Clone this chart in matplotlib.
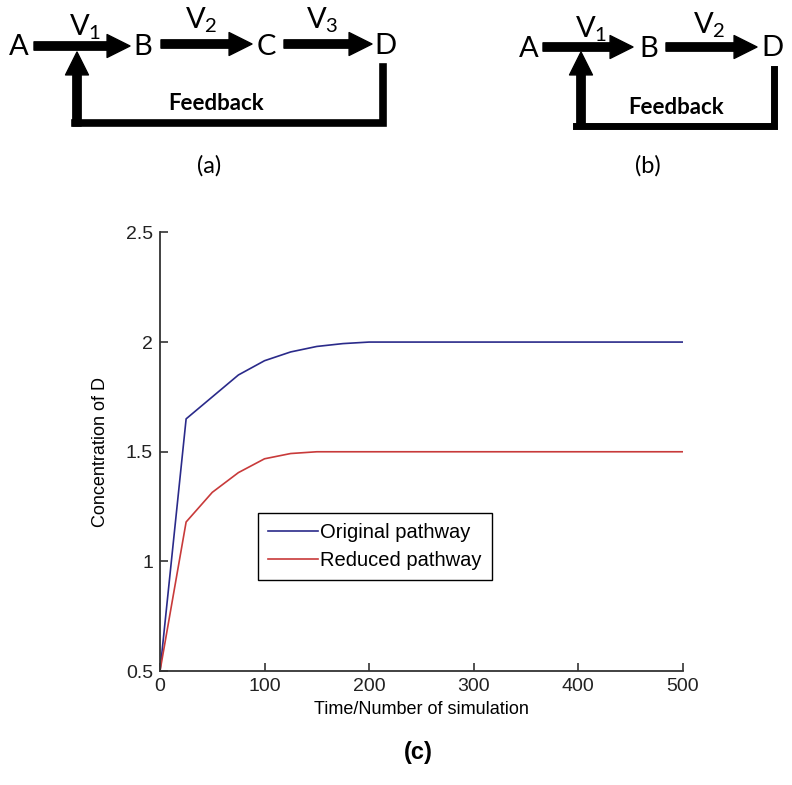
import numpy as np
import matplotlib
matplotlib.use('Agg')
import matplotlib.pyplot as plt

# simulation output
time = [0, 25, 50, 75, 100, 125, 150, 175, 200, 250, 300, 350, 400, 450, 500]
original = [0.5, 1.65, 1.75, 1.85, 1.915, 1.955, 1.98, 1.993, 2.0, 2.0, 2.0, 2.0, 2.0, 2.0, 2.0]
reduced = [0.5, 1.18, 1.315, 1.405, 1.468, 1.492, 1.5, 1.5, 1.5, 1.5, 1.5, 1.5, 1.5, 1.5, 1.5]
labels = ['Original pathway', 'Reduced pathway']
xticks = [0, 100, 200, 300, 400, 500]
yticks = [0.5, 1, 1.5, 2, 2.5]

plt.rcParams['mathtext.fontset'] = 'custom'
plt.rcParams['mathtext.rm'] = 'Lato'
plt.rcParams['mathtext.it'] = 'Lato'

fig = plt.figure(figsize=(7.92, 7.85), dpi=100)

# pathway diagrams, drawn in pixel coords
dg = fig.add_axes([0, 0, 1, 1])
dg.set_xlim(0, 792)
dg.set_ylim(785, 0)
dg.axis('off')

dfont = 'Lato'

def arrow(x0, y0, x1, y1):
    dg.annotate('', xy=(x1, y1), xytext=(x0, y0),
                arrowprops=dict(arrowstyle='simple,head_length=0.55,head_width=0.55,tail_width=0.2',
                                color='black', mutation_scale=30, shrinkA=0, shrinkB=0))

def node(x, y, s):
    dg.text(x, y, s, fontsize=21, family=dfont, ha='center', va='center')

def rate(x, y, n):
    dg.text(x, y, r'V$_\mathregular{%s}$' % n, fontsize=21, family=dfont, ha='left', va='center')

# (a)
node(19, 47, 'A'); node(143, 47, 'B'); node(266, 47, 'C'); node(385, 46, 'D')
arrow(34, 46, 130, 46); arrow(161, 44, 252, 44); arrow(284, 44, 372, 44)
rate(69, 27, '1'); rate(185, 20, '2'); rate(306, 20, '3')
dg.plot([383, 383, 75], [67, 123, 123], color='black', lw=5.5, solid_joinstyle='miter')
arrow(77, 126, 77, 52)
dg.text(216, 103, 'Feedback', fontsize=16, family=dfont, weight='bold', ha='center', va='center')
dg.text(209, 166, '(a)', fontsize=17, family=dfont, ha='center', va='center')

# (b)
node(529, 49, 'A'); node(649, 49, 'B'); node(772, 48, 'D')
arrow(543, 47, 633, 47); arrow(666, 47, 757, 47)
rate(575, 29, '1'); rate(693, 25, '2')
dg.plot([774, 774, 576], [69, 126, 126], color='black', lw=5, solid_joinstyle='miter')
arrow(581, 128, 581, 52)
dg.text(676, 108, 'Feedback', fontsize=16, family=dfont, weight='bold', ha='center', va='center')
dg.text(648, 166, '(b)', fontsize=17, family=dfont, ha='center', va='center')

dg.text(418, 752, '(c)', fontsize=17, family='Liberation Sans', weight='bold', ha='center', va='center')

# (c) time course
ax = fig.add_axes([0.202, 0.145, 0.66, 0.559])
ax.set_facecolor('none')
ax.plot(time, original, color='#2a2a8a', lw=1.2, label=labels[0])
ax.plot(time, reduced, color='#c83a3a', lw=1.2, label=labels[1])
ax.set_xlim(0, 500)
ax.set_ylim(0.5, 2.5)
ax.set_xticks(xticks)
ax.set_yticks(yticks)
ax.set_yticklabels(['0.5', '1', '1.5', '2', '2.5'])
for s in ['top', 'right']:
    ax.spines[s].set_visible(False)
for s in ['left', 'bottom']:
    ax.spines[s].set_color('#333333')
    ax.spines[s].set_linewidth(1.3)
ax.tick_params(direction='in', length=6, width=1.2, color='#333333',
               labelsize=14, pad=5)
for t in ax.get_xticklabels() + ax.get_yticklabels():
    t.set_family('Liberation Sans')
    t.set_color('#222222')
ax.set_xlabel('Time/Number of simulation', fontsize=13, family='Liberation Sans', labelpad=4)
ax.set_ylabel('Concentration of D', fontsize=13, family='Liberation Sans', labelpad=12)
leg = ax.legend(loc='upper left', bbox_to_anchor=(0.187, 0.36), fancybox=False,
                framealpha=1, edgecolor='black', borderpad=0.5, handlelength=2.5,
                handletextpad=0.1, labelspacing=0.45, borderaxespad=0,
                prop={'family': 'Liberation Sans', 'size': 14.5})
leg.get_frame().set_linewidth(1.0)

fig.savefig('out.png', dpi=100)
